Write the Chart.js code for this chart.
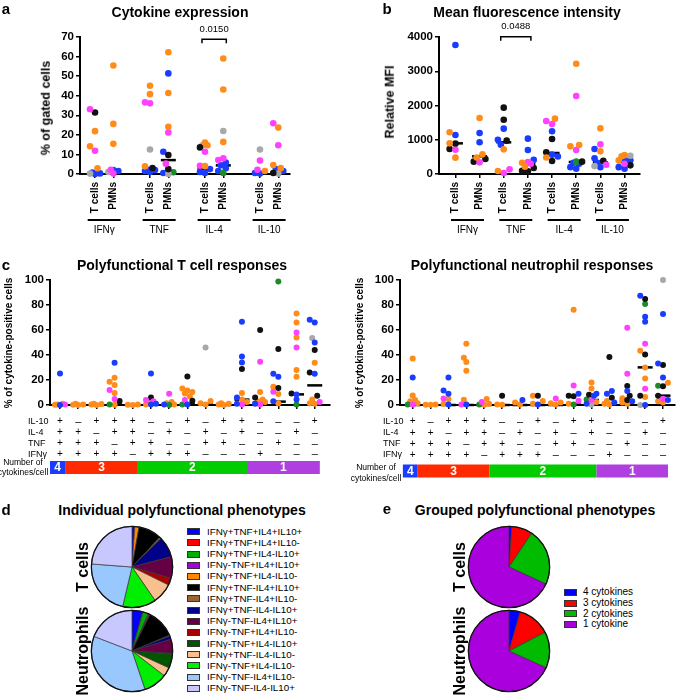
<!DOCTYPE html>
<html><head><meta charset="utf-8"><title>Cytokine figure</title>
<script src="https://cdn.jsdelivr.net/npm/chart.js@4.4.1/dist/chart.umd.min.js"></script>
<style>
html,body{margin:0;padding:0;background:#fff;}
#root{position:relative;width:685px;height:696px;overflow:hidden;font-family:"Liberation Sans",Arial,Helvetica,sans-serif;color:#000;}
#root canvas{position:absolute;}
.t{position:absolute;white-space:nowrap;line-height:1;transform:translate(-50%,-50%);}
.r{transform:translate(-50%,-50%) rotate(-90deg);}
.l{transform:translate(0,-50%);}
.box{position:absolute;border:1px solid #333;box-sizing:border-box;}
</style></head><body><div id="root"></div>
<script>
// ================= DATA =================
// Panel a: % of gated cells (IFNγ T, IFNγ PMN, TNF T, TNF PMN, IL-4 T, IL-4 PMN, IL-10 T, IL-10 PMN)
const aCellTypes = ['T cells', 'PMNs'];
const aCytokines = ['IFNγ', 'TNF', 'IL-4', 'IL-10'];
const aYTicks = [0, 10, 20, 30, 40, 50, 60, 70];
const aBlue    = [[0.3,0.8,0],[2,1.5],[2,1.5,1,2.2],[51.4,11.4,0.5],[2.5,1,0.5],[5.9,4.5,3,1.5],[0.5,0.2],[2.5,1.5]];
const aMagenta = [[33.1,11.9],[2.2,0.2],[36.6,36.1],[21.2,5.3],[11.4,4.2],[8,7.1],[6.9,2.2],[25.9,14.7]];
const aOrange  = [[21.9,14.2,2.9],[55.4,25.6,15.4],[45.1,40.8,3.9],[62.2,41.4,24.1],[16.1,14.7,4],[59,43.2,16.4],[1.5],[23.7,4.6,3]];
const aBlack   = [[31.4],[],[3.1],[9.7,2.5],[13.6],[],[],[0.5]];
const aGray    = [[0.2],[1],[12.5],[0],[14.7],[22],[12.5],[0.2]];
const aGreen   = [[],[],[],[0.9],[],[0.5],[],[]];
const aMedian  = [0.5,1,2,7.1,2.7,4.4,0.3,0.9];
const aPValue = '0.0150';
const aPPair = [4, 5];

// Panel b: relative MFI
const bYTicks = [0, 1000, 2000, 3000, 4000];
const bBlue    = [[3766,1139],[1197,925],[1324,1002,856],[1032,700,418],[1246,565,510],[330,300,200,156],[730,457,330,200],[438,400,156,200]];
const bMagenta = [[710],[340],[136,29],[350,300],[1547,1460],[2277,700],[866,272],[300]];
const bOrange  = [[1217,895,477],[1635,574,480],[720,88],[330,214],[1616,480],[3221,847,808],[1333,662],[550,516,400]];
const bBlack   = [[886,730],[438,360],[1937,1586,973],[175,97,80],[1022,633,380],[360],[389],[253]];
const bGray    = [[],[],[],[],[],[],[230],[535]];
const bGreen   = [[],[],[],[],[],[360],[],[]];
const bMedian  = [895,516,925,302,613,350,340,350];
const bPValue = '0.0488';
const bPPair = [2, 3];

// Panel c: polyfunctional responses (15 phenotype columns)
const cRowLabels = ['IL-10', 'IL-4', 'TNF', 'IFNγ'];
const cRowSigns = ['+-+++--+-++---+', '++-++-+-+-+--+-', '+++-++--++--+--', '++++-+++---+---'];
const cGroupLabels = ['4', '3', '2', '1'];
const cGroupSizes = [1, 4, 6, 4];
const cYTicks = [0, 20, 40, 60, 80, 100];
// T cells
const ctBlue    = [[25.3,0],[],[],[33.9],[],[25.3,1,0.5],[0.5],[0.5],[],[],[66.7,38.9,34.1,6.1,1],[1],[25.1,22.7,3],[8.5,4.5],[68.3,66.1,50.1,25.1]];
const ctMagenta = [[0.5],[],[],[12,4.8],[],[4,3],[9.1],[4],[],[],[0.5],[34.7,0.5],[10.7],[58.1,46.1],[2.5]];
const ctOrange  = [[1,0.5,0.2],[1,0.5,0.3,0],[1,0.5,0.8,0],[21.9,18.7,16,9.6,0.3],[0.5,0.3,0],[2,0.5],[2.5,1.5,0.5],[13.3,11.7,10.5,9.3,7],[3.2,1.5,0.5],[1.5,0.5,1,0],[9.6,4.5,2.5],[10.4,4.5,3,2.5],[14.7,8.8,1.5],[73.3,66.1,54.1,28,22.7],[33.9,4.5,1.5,1]];
const ctBlack   = [[],[],[],[3.2],[],[6.1],[],[22.9,3.5],[],[],[28.8],[60,6.1],[44.8,13.6],[9.3],[44,26.1,7.5]];
const ctGray    = [[],[],[],[],[],[],[],[],[46.1],[],[],[],[],[],[53.6]];
const ctGreen   = [[],[],[],[0.5],[],[],[0],[0.5],[],[],[],[],[98.9],[0.5],[]];
const ctMedian  = [0,0,0,0.5,0,0.5,0.3,1,0.3,0,4.3,1.9,2.7,8.5,15.7];
// Neutrophils
const cnBlue    = [[22.1],[],[22.1,11.7,9.1,0.5],[0.5],[],[],[4],[0.5],[],[9.1],[9.1,7.5,1],[11.2,9.1,2],[11.2,3],[87.5,70.7,66.7,0],[72.8,33.3,22.1,4]];
const cnMagenta = [[0.5],[],[5.3],[0.5],[2.5],[],[],[],[5.3],[15.7,3.5],[4],[],[61.9,25.1],[49.1,13.1],[5]];
const cnOrange  = [[37.3,7.7,4,3,1.5],[0.5,0.3,0.2],[4.8,1],[49.1,37.9,34.4,27.5,4.3],[4.8,1,0.2],[0.5,0.3],[2,0.5],[7.5,3.2,1],[1.5,2,0.5],[76.3,1],[18.1,13.3,2.5],[3.2,1,0.5],[5.5,2,1],[43.5,30.1,21.3,6.4],[17.9,3,2]];
const cnBlack   = [[],[],[],[],[],[7.5],[],[7.5],[],[7.5,7],[8.3],[38.4,5.9],[15.2,7.5,4],[84.8,40.5,7.5],[32,15,7.5]];
const cnGray    = [[],[],[],[],[],[],[],[],[],[],[0.2],[],[],[0],[100]];
const cnGreen   = [[0.5],[],[],[],[0.5],[],[],[],[],[0.5],[4.5],[],[],[80.8],[15.5]];
const cnMedian  = [0,0,0,0,0,0,0,0,0,0.3,4,0.5,3.5,30.1,7.5];

// Panel d: individual phenotypes (% of responses)
const dPhenotypes = ['IFNγ+TNF+IL4+IL10+','IFNγ+TNF+IL4+IL10-','IFNγ+TNF+IL4-IL10+','IFNγ-TNF+IL4+IL10+','IFNγ+TNF+IL4-IL10-','IFNγ+TNF-IL4+IL10+','IFNγ+TNF-IL4+IL10-','IFNγ+TNF-IL4-IL10+','IFNγ-TNF-IL4+IL10+','IFNγ-TNF+IL4+IL10-','IFNγ-TNF+IL4-IL10+','IFNγ+TNF-IL4-IL10-','IFNγ-TNF+IL4-IL10-','IFNγ-TNF-IL4+IL10-','IFNγ-TNF-IL4-IL10+'];
const dTcells      = [1.1, 0, 0, 0, 1.7, 9.2, 0.6, 8.3, 8.6, 2.8, 0, 8.1, 13.3, 22.5, 23.8];
const dNeutrophils = [4.2, 0.2, 2.2, 0.5, 0.2, 11.4, 0.3, 1.4, 5.6, 0.3, 5.6, 3.6, 9.4, 36.1, 19.2];

// Panel e: grouped phenotypes
const eGroups = ['4 cytokines', '3 cytokines', '2 cytokines', '1 cytokine'];
const eTcells      = [1.1, 8.3, 22.5, 68.1];
const eNeutrophils = [4.4, 13.0, 14.4, 68.2];

// ================= STYLES =================
const FONT = '"Liberation Sans", Arial, Helvetica, sans-serif';
const DOT = {blue:'#1a3cff', magenta:'#ff40ff', orange:'#ff8c1a', black:'#111111', gray:'#a8a8a8', green:'#1b8c2a'};
const dColors = ['#0000ff','#ff0000','#00b000','#aa00dd','#ff8800','#000000','#996633','#000088','#660044','#aa0000','#005500','#f8c08c','#00ee00','#99c8ff','#c8c8ff'];
const eColors = ['#0000ff','#ff0000','#00bb00','#aa00dd'];
const cBarColors = ['#1a3cff','#ff2a00','#00cc00','#b03fe0'];

// ================= HELPERS =================
const root = document.getElementById('root');
function addText(s, x, y, size, weight, cls) {
  const d = document.createElement('div');
  d.className = 't ' + (cls || '');
  d.textContent = s;
  d.style.left = x + 'px'; d.style.top = y + 'px';
  d.style.fontSize = size + 'px'; d.style.fontWeight = weight || 'normal';
  root.appendChild(d); return d;
}
function addCanvas(x, y, w, h) {
  const c = document.createElement('canvas');
  c.width = w; c.height = h;
  c.style.left = x + 'px'; c.style.top = y + 'px';
  c.style.width = w + 'px'; c.style.height = h + 'px';
  root.appendChild(c); return c;
}
// beeswarm-style horizontal spreading (layout only)
function swarm(vals, pxY, pxX, step, maxOff, minD) {
  const placed = [], out = [];
  const cands = [0];
  for (let k = 1; k * step <= maxOff + 1e-6; k++) cands.push(-k * step, k * step);
  vals.forEach(v => {
    const yp = v * pxY; let best = 0, bestScore = -1;
    for (const c of cands) {
      let md = Infinity;
      for (const p of placed) { const d = Math.hypot(c - p.x, yp - p.y); if (d < md) md = d; }
      if (md >= minD) { best = c; break; }
      if (md > bestScore) { bestScore = md; best = c; }
    }
    placed.push({x: best, y: yp}); out.push(best / pxX);
  });
  return out;
}
function buildDatasets(series, order, ncat, posFn, sw, r, medians) {
  const per = {}; order.forEach(k => per[k] = []);
  for (let c = 0; c < ncat; c++) {
    const pts = [];
    order.forEach(k => (series[k][c] || []).forEach(v => pts.push({k, v})));
    pts.sort((a, b) => a.v - b.v);
    const offs = swarm(pts.map(p => p.v), sw.pxY, sw.pxX, sw.step, sw.max, sw.minD);
    pts.forEach((p, i) => per[p.k].push({x: posFn(c) + offs[i], y: p.v}));
  }
  const ds = order.map(k => ({data: per[k], backgroundColor: DOT[k], borderWidth: 0, pointRadius: r, pointHoverRadius: r, clip: false}));
  ds.push({data: medians.map((m, c) => ({x: posFn(c), y: m})), pointStyle: 'line', pointRadius: 7.5, pointHoverRadius: 7.5, borderColor: '#000', backgroundColor: '#000', borderWidth: 2.5, clip: false});
  return ds;
}

const extrasPlugin = {
  id: 'extras',
  afterDraw(chart, args, o) {
    const ctx = chart.ctx, xs = chart.scales.x, ys = chart.scales.y;
    ctx.save(); ctx.fillStyle = '#000'; ctx.strokeStyle = '#000';
    if (o.groups) {
      ctx.font = `10px ${FONT}`; ctx.textAlign = 'center'; ctx.textBaseline = 'middle';
      o.groups.forEach(g => {
        const mid = (xs.getPixelForValue(g.from) + xs.getPixelForValue(g.to)) / 2;
        ctx.fillRect(mid - o.groupHalf, o.lineY - 1, o.groupHalf * 2, 2);
        ctx.fillText(g.label, mid, o.labelY);
      });
    }
    if (o.bracket) {
      const b = o.bracket;
      const x1 = xs.getPixelForValue(b.from) - 3, x2 = xs.getPixelForValue(b.to) + 3, y = ys.getPixelForValue(b.value);
      ctx.lineWidth = 1.5; ctx.beginPath();
      ctx.moveTo(x1, y + 4); ctx.lineTo(x1, y); ctx.lineTo(x2, y); ctx.lineTo(x2, y + 4); ctx.stroke();
      ctx.font = `9.5px ${FONT}`; ctx.textAlign = 'center'; ctx.textBaseline = 'middle';
      ctx.fillText(b.text, (x1 + x2) / 2, y - 10);
    }
    if (o.rows) {
      const r = o.rows;
      ctx.textBaseline = 'middle';
      r.labels.forEach((lab, i) => {
        const y = r.ys[i];
        ctx.fillStyle = '#000';
        ctx.font = `9px ${FONT}`; ctx.textAlign = 'left'; ctx.fillText(lab, r.labelX, y);
        const s = r.signs[i];
        for (let c = 0; c < s.length; c++) {
          const x = xs.getPixelForValue(c);
          ctx.textAlign = 'center';
          if (s[c] === '+') { ctx.font = `10px ${FONT}`; ctx.fillText('+', x, y); }
          else { ctx.font = `11px ${FONT}`; ctx.fillText('–', x, y); }
        }
      });
      let start = -0.55, cum = 0;
      r.groupSizes.forEach((n, i) => {
        cum += n;
        const end = cum - 0.72;
        const x1 = xs.getPixelForValue(start), x2 = xs.getPixelForValue(end);
        ctx.fillStyle = r.barColors[i]; ctx.fillRect(x1, r.barY, x2 - x1, r.barH);
        ctx.fillStyle = '#fff'; ctx.font = `bold 12px ${FONT}`; ctx.textAlign = 'center';
        ctx.fillText(r.groupLabels[i], (x1 + x2) / 2, r.barY + r.barH / 2 + 0.5);
        start = end;
      });
      ctx.fillStyle = '#000'; ctx.font = `8.5px ${FONT}`; ctx.textAlign = 'center';
      ctx.fillText('Number of', r.numX, r.numY1);
      ctx.fillText('cytokines/cell', r.numX, r.numY2);
    }
    ctx.restore();
  }
};

function axisCommon() {
  return {
    grid: {drawOnChartArea: false, drawTicks: true, tickLength: 4, color: '#000', lineWidth: 1.5},
    border: {display: true, color: '#000', width: 2}
  };
}
function scatterChart(canvas, cfg) {
  return new Chart(canvas, {
    type: 'scatter',
    data: {datasets: cfg.datasets},
    options: {
      responsive: false, animation: false, events: [],
      layout: {padding: {top: cfg.padTop, right: cfg.padRight, left: 0, bottom: 0}},
      plugins: {legend: {display: false}, tooltip: {enabled: false}, extras: cfg.extras},
      scales: {
        x: Object.assign(axisCommon(), {
          type: 'linear', min: cfg.xmin, max: cfg.xmax,
          afterBuildTicks: s => { s.ticks = cfg.xTickVals.map(v => ({value: v})); },
          afterFit: s => { s.height = cfg.xH; },
          ticks: {autoSkip: false, minRotation: cfg.xRot, maxRotation: cfg.xRot, padding: 4, color: '#000',
                  font: {family: FONT, size: 10, weight: 'bold'}, callback: (v, i) => cfg.xLabels[i] || ''}
        }),
        y: Object.assign(axisCommon(), {
          type: 'linear', min: cfg.yTicks[0], max: cfg.yTicks[cfg.yTicks.length - 1],
          afterBuildTicks: s => { s.ticks = cfg.yTicks.map(v => ({value: v})); },
          afterFit: s => { s.width = cfg.yW; },
          ticks: {padding: 2, color: '#000', font: {family: FONT, size: cfg.yFont, weight: 'bold'}, callback: v => String(v)}
        })
      }
    },
    plugins: [extrasPlugin]
  });
}

const outlinePlugin = {
  id: 'outline',
  afterDraw(chart) {
    const a = chart.getDatasetMeta(0).data[0]; if (!a) return;
    const ctx = chart.ctx; ctx.save(); ctx.beginPath();
    ctx.arc(a.x, a.y, a.outerRadius, 0, Math.PI * 2);
    ctx.lineWidth = 1.3; ctx.strokeStyle = '#111'; ctx.stroke(); ctx.restore();
  }
};
function pieChart(cx, cy, labels, values, colors) {
  const c = addCanvas(cx - 42, cy - 42, 84, 84);
  return new Chart(c, {
    type: 'pie',
    data: {labels, datasets: [{data: values, backgroundColor: colors, borderColor: '#333', borderWidth: 0.7}]},
    options: {responsive: false, animation: false, events: [], layout: {padding: 1},
      plugins: {legend: {display: false}, tooltip: {enabled: false}}},
    plugins: [outlinePlugin]
  });
}

// ================= PANEL a =================
{
  const pos = c => Math.floor(c / 2) * 3 + (c % 2);
  const series = {orange: aOrange, magenta: aMagenta, black: aBlack, gray: aGray, green: aGreen, blue: aBlue};
  const order = ['orange', 'magenta', 'black', 'gray', 'green', 'blue'];
  const n = aMedian.length;
  const cv = addCanvas(0, 15, 300, 225);
  scatterChart(cv, {
    datasets: buildDatasets(series, order, n, pos, {pxY: 1.96, pxX: 18.33, step: 2.5, max: 6, minD: 5.5}, 3.3, aMedian),
    padTop: 22, padRight: 10, xH: 66, yW: 80, xmin: -0.82, xmax: 10.64, xRot: 90, yFont: 11.5,
    xTickVals: Array.from({length: n}, (_, c) => pos(c)),
    xLabels: Array.from({length: n}, (_, c) => aCellTypes[c % 2]),
    yTicks: aYTicks,
    extras: {groups: aCytokines.map((g, i) => ({label: g, from: pos(2 * i), to: pos(2 * i + 1)})), groupHalf: 16.5, lineY: 205, labelY: 215,
             bracket: {from: pos(aPPair[0]), to: pos(aPPair[1]), value: 68.8, text: aPValue}}
  });
  addText('a', 6, 8, 15, 'bold');
  addText('Cytokine expression', 180, 12, 14, 'bold');
  addText('% of gated cells', 46, 108, 12.5, 'bold', 'r');
}

// ================= PANEL b =================
{
  const pos = c => c;
  const series = {orange: bOrange, magenta: bMagenta, black: bBlack, gray: bGray, green: bGreen, blue: bBlue};
  const order = ['orange', 'magenta', 'black', 'gray', 'green', 'blue'];
  const n = bMedian.length;
  const cv = addCanvas(350, 15, 300, 225);
  scatterChart(cv, {
    datasets: buildDatasets(series, order, n, pos, {pxY: 0.03425, pxX: 24.88, step: 3, max: 7, minD: 5.5}, 3.3, bMedian),
    padTop: 22, padRight: 4, xH: 66, yW: 89, xmin: -0.68, xmax: 7.64, xRot: 90, yFont: 11.5,
    xTickVals: Array.from({length: n}, (_, c) => pos(c)),
    xLabels: Array.from({length: n}, (_, c) => aCellTypes[c % 2]),
    yTicks: bYTicks,
    extras: {groups: aCytokines.map((g, i) => ({label: g, from: pos(2 * i), to: pos(2 * i + 1)})), groupHalf: 16.5, lineY: 205, labelY: 215,
             bracket: {from: pos(bPPair[0]), to: pos(bPPair[1]), value: 4005, text: bPValue}}
  });
  addText('b', 387, 8, 15, 'bold');
  addText('Mean fluorescence intensity', 527, 12, 14, 'bold');
  addText('Relative MFI', 390, 102, 12.5, 'bold', 'r');
}

// ================= PANEL c =================
function panelC(left, width, padRight, xmin, xmax, series, medians, rowsCfg) {
  const pos = c => c;
  const order = ['blue', 'magenta', 'black', 'gray', 'green', 'orange'];
  const n = medians.length;
  const cv = addCanvas(left, 270, width, 215);
  scatterChart(cv, {
    datasets: buildDatasets(series, order, n, pos, {pxY: 1.25, pxX: 18.2, step: 2.5, max: 6, minD: 5}, 3, medians),
    padTop: 10, padRight: padRight, xH: 80, yW: 50, xmin, xmax, xRot: 0, yFont: 11.5,
    xTickVals: Array.from({length: n}, (_, c) => c),
    xLabels: Array.from({length: n}, () => ''),
    yTicks: cYTicks,
    extras: {rows: Object.assign({labels: cRowLabels, signs: cRowSigns, groupSizes: cGroupSizes, groupLabels: cGroupLabels, barColors: cBarColors}, rowsCfg)}
  });
}
panelC(0, 340, 10, -0.55, 14.84,
  {blue: ctBlue, magenta: ctMagenta, orange: ctOrange, black: ctBlack, gray: ctGray, green: ctGreen}, ctMedian,
  {ys: [151.7, 162.7, 173.5, 184.3], labelX: 28, barY: 191, barH: 13, numX: 23, numY1: 193, numY2: 203});
panelC(350, 335, 5, -0.71, 14.67,
  {blue: cnBlue, magenta: cnMagenta, orange: cnOrange, black: cnBlack, gray: cnGray, green: cnGreen}, cnMedian,
  {ys: [151.7, 163, 174, 185], labelX: 33, barY: 194.5, barH: 13, numX: 26, numY1: 198, numY2: 209});
addText('c', 6, 264, 15, 'bold');
addText('Polyfunctional T cell responses', 182, 265, 14, 'bold');
addText('Polyfunctional neutrophil responses', 532, 265, 14, 'bold');
addText('% of cytokine-positive cells', 9, 343, 10, 'bold', 'r');
addText('% of cytokine-positive cells', 360, 343, 10, 'bold', 'r');

// ================= PANEL d =================
pieChart(132, 567, dPhenotypes, dTcells, dColors);
pieChart(132, 651, dPhenotypes, dNeutrophils, dColors);
addText('d', 6, 509, 15, 'bold');
addText('Individual polyfunctional phenotypes', 182, 510, 14, 'bold');
addText('T cells', 83, 567, 16, 'bold', 'r');
addText('Neutrophils', 83, 651, 16, 'bold', 'r');
dPhenotypes.forEach((lab, i) => {
  const y = 531.7 + i * 11.19;
  const b = document.createElement('div'); b.className = 'box';
  Object.assign(b.style, {left: '187px', top: (y - 3.5) + 'px', width: '13px', height: '7px', background: dColors[i]});
  root.appendChild(b);
  addText(lab, 207, y, 9.8, 'normal', 'l');
});

// ================= PANEL e =================
pieChart(509, 567, eGroups, eTcells, eColors);
pieChart(509, 651, eGroups, eNeutrophils, eColors);
addText('e', 387, 508, 15, 'bold');
addText('Grouped polyfunctional phenotypes', 535, 510, 14, 'bold');
addText('T cells', 460, 567, 16, 'bold', 'r');
addText('Neutrophils', 460, 651, 16, 'bold', 'r');
eGroups.forEach((lab, i) => {
  const y = 592.3 + i * 10.7;
  const b = document.createElement('div'); b.className = 'box';
  Object.assign(b.style, {left: '564px', top: (y - 3.5) + 'px', width: '13px', height: '7px', background: eColors[i]});
  root.appendChild(b);
  addText(lab, 583, y, 10, 'normal', 'l');
});
</script></body></html>
